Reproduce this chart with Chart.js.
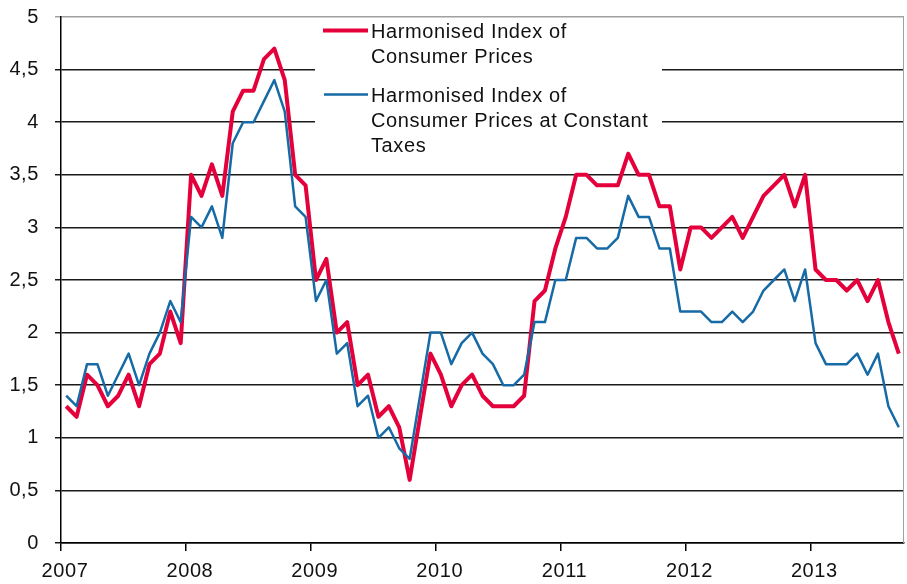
<!DOCTYPE html>
<html>
<head>
<meta charset="utf-8">
<script src="https://cdn.jsdelivr.net/npm/chart.js@4.4.1/dist/chart.umd.min.js"></script>
<style>
  html, body { margin: 0; padding: 0; background: #fff; }
  #wrap { position: relative; width: 907px; height: 584px; }
</style>
</head>
<body>
<div id="wrap"><canvas id="c"></canvas></div>
<script>
// ---- Data (monthly, Jan 2007 – Sep 2013) ----
const yearLabels = ['2007', '2008', '2009', '2010', '2011', '2012', '2013'];

const hicp = [
  1.3, 1.2, 1.6, 1.5, 1.3, 1.4, 1.6, 1.3, 1.7, 1.8, 2.2, 1.9,
  3.5, 3.3, 3.6, 3.3, 4.1, 4.3, 4.3, 4.6, 4.7, 4.4, 3.5, 3.4,
  2.5, 2.7, 2.0, 2.1, 1.5, 1.6, 1.2, 1.3, 1.1, 0.6, 1.2, 1.8,
  1.6, 1.3, 1.5, 1.6, 1.4, 1.3, 1.3, 1.3, 1.4, 2.3, 2.4, 2.8,
  3.1, 3.5, 3.5, 3.4, 3.4, 3.4, 3.7, 3.5, 3.5, 3.2, 3.2, 2.6,
  3.0, 3.0, 2.9, 3.0, 3.1, 2.9, 3.1, 3.3, 3.4, 3.5, 3.2, 3.5,
  2.6, 2.5, 2.5, 2.4, 2.5, 2.3, 2.5, 2.1, 1.8
];

const hicpConstantTaxes = [
  1.4, 1.3, 1.7, 1.7, 1.4, 1.6, 1.8, 1.5, 1.8, 2.0, 2.3, 2.1,
  3.1, 3.0, 3.2, 2.9, 3.8, 4.0, 4.0, 4.2, 4.4, 4.1, 3.2, 3.1,
  2.3, 2.5, 1.8, 1.9, 1.3, 1.4, 1.0, 1.1, 0.9, 0.8, 1.4, 2.0,
  2.0, 1.7, 1.9, 2.0, 1.8, 1.7, 1.5, 1.5, 1.6, 2.1, 2.1, 2.5,
  2.5, 2.9, 2.9, 2.8, 2.8, 2.9, 3.3, 3.1, 3.1, 2.8, 2.8, 2.2,
  2.2, 2.2, 2.1, 2.1, 2.2, 2.1, 2.2, 2.4, 2.5, 2.6, 2.3, 2.6,
  1.9, 1.7, 1.7, 1.7, 1.8, 1.6, 1.8, 1.3, 1.1
];

const seriesNames = [
  ['Harmonised Index of', 'Consumer Prices'],
  ['Harmonised Index of', 'Consumer Prices at Constant', 'Taxes']
];

const RED = 'rgb(228, 0, 58)';
const BLUE = 'rgb(22, 106, 166)';
const FONT = '"Liberation Sans", Arial, sans-serif';

const toPoints = arr => arr.map((v, i) => ({ x: i, y: v }));

const stylePlugin = {
  id: 'styleSetup',
  beforeDraw(chart) {
    chart.ctx.letterSpacing = '0.6px';
  }
};

const legendPlugin = {
  id: 'boxLegend',
  beforeDatasetsDraw(chart) {
    const ctx = chart.ctx;
    ctx.save();
    ctx.fillStyle = '#fff';
    ctx.fillRect(315, 18.5, 347, 140);
    // right border of plot area
    const a = chart.chartArea;
    ctx.strokeStyle = '#a0a0a0';
    ctx.lineWidth = 1;
    ctx.beginPath();
    ctx.moveTo(Math.round(a.right) - 0.5, a.top);
    ctx.lineTo(Math.round(a.right) - 0.5, a.bottom);
    ctx.stroke();
    ctx.restore();
  },
  afterDatasetsDraw(chart) {
    const ctx = chart.ctx;
    ctx.save();
    ctx.letterSpacing = '0.6px';
    ctx.lineCap = 'butt';
    // samples
    ctx.strokeStyle = RED;
    ctx.lineWidth = 4;
    ctx.beginPath(); ctx.moveTo(323, 30.5); ctx.lineTo(368, 30.5); ctx.stroke();
    ctx.strokeStyle = BLUE;
    ctx.lineWidth = 2.5;
    ctx.beginPath(); ctx.moveTo(324, 94.5); ctx.lineTo(368, 94.5); ctx.stroke();
    // text
    ctx.fillStyle = '#111';
    ctx.font = '20px ' + FONT;
    ctx.textBaseline = 'alphabetic';
    ctx.textAlign = 'left';
    const starts = [37.5, 101.5];
    seriesNames.forEach((lines, s) => {
      lines.forEach((t, k) => ctx.fillText(t, 371, starts[s] + k * 25));
    });
    ctx.restore();
  }
};

new Chart(document.getElementById('c'), {
  type: 'line',
  data: {
    datasets: [
      {
        label: seriesNames[0].join(' '),
        data: toPoints(hicp),
        borderColor: RED,
        borderWidth: 4,
        pointRadius: 0,
        tension: 0,
        borderJoinStyle: 'round',
        order: 2
      },
      {
        label: seriesNames[1].join(' '),
        data: toPoints(hicpConstantTaxes),
        borderColor: BLUE,
        borderWidth: 2.5,
        pointRadius: 0,
        tension: 0,
        borderJoinStyle: 'round',
        order: 1
      }
    ]
  },
  options: {
    responsive: true,
    maintainAspectRatio: false,
    animation: false,
    layout: { padding: { top: 17, right: 3, left: 0, bottom: 0 } },
    plugins: {
      legend: { display: false },
      tooltip: { enabled: false }
    },
    scales: {
      x: {
        type: 'linear',
        position: 'bottom',
        min: -0.5,
        max: 80.5,
        afterBuildTicks: scale => {
          scale.ticks = yearLabels.map((_, k) => ({ value: -0.5 + 12 * k }));
        },
        afterFit: scale => {
          scale.height = 41;
          scale.paddingLeft = 0;
          scale.paddingRight = 0;
        },
        grid: {
          drawOnChartArea: false,
          drawTicks: true,
          tickLength: 8,
          color: '#000',
          lineWidth: 1.5
        },
        border: { display: true, color: '#000', width: 1.5 },
        ticks: {
          autoSkip: false,
          maxRotation: 0,
          padding: 8,
          labelOffset: 4,
          color: '#111',
          font: { size: 20, family: FONT },
          callback: v => yearLabels[Math.round((v + 0.5) / 12)]
        }
      },
      y: {
        min: 0,
        max: 5,
        afterFit: scale => {
          scale.width = 61;
          scale.paddingTop = 0;
          scale.paddingBottom = 0;
        },
        grid: {
          drawTicks: true,
          tickLength: 6,
          color: ctx => (ctx.tick && ctx.tick.value === 5 ? '#a0a0a0' : '#1a1a1a'),
          lineWidth: 1.5
        },
        border: { display: true, color: '#000', width: 1.5 },
        ticks: {
          stepSize: 0.5,
          padding: 16,
          color: '#111',
          font: { size: 20, family: FONT },
          callback: v => String(v).replace('.', ',')
        }
      }
    }
  },
  plugins: [stylePlugin, legendPlugin]
});
</script>
</body>
</html>
